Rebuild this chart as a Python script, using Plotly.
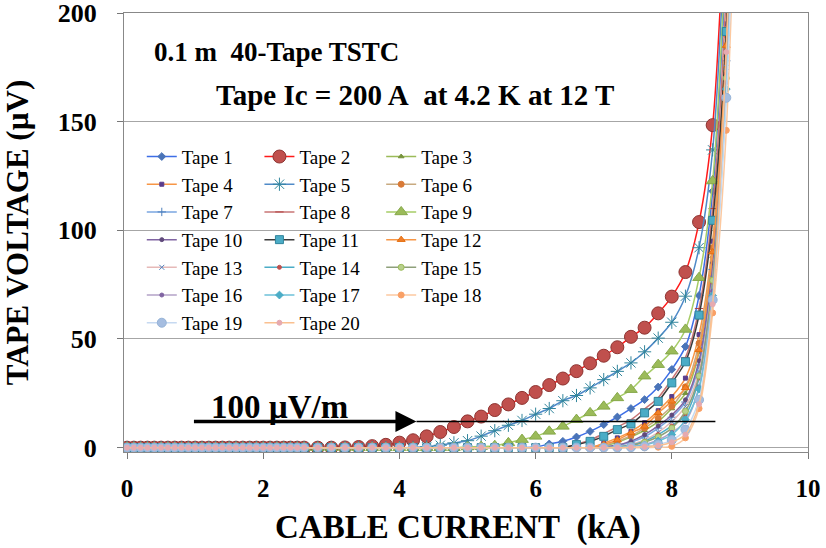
import plotly.graph_objects as go

# ---------------- data ----------------
current_low_ka = [0.0, 0.1, 0.2, 0.3, 0.4, 0.5, 0.6, 0.7, 0.8, 0.9, 1.0, 1.1, 1.2, 1.3,
                  1.4, 1.5, 1.6, 1.7, 1.8, 1.9, 2.0, 2.1, 2.2, 2.3, 2.4, 2.5, 2.6]
baseline_uv = [0, 0, 0, 0, 0, 0, 0, 0, 0, 0, 0, 0, 0, 0,
               0, 0, 0, 0, 0, 0, 0, 0, 0, 0, 0, 0, 0]
current_high_ka = [2.8, 3.0, 3.2, 3.4, 3.6, 3.8, 4.0, 4.2, 4.4, 4.6, 4.8, 5.0, 5.2, 5.4, 5.6, 5.8,
                   6.0, 6.2, 6.4, 6.6, 6.8, 7.0, 7.2, 7.4, 7.6, 7.8, 8.0, 8.2, 8.4, 8.6, 8.8, 9.0]

tape_01 = [0, 0, 0, 0, 0, 0, 0, 0, 0, 0, 0, 0, 0, 0, 0, 0,
           0.3, 1.7, 2.9, 4.9, 7.5, 10.6, 14.1, 18.0, 22.1, 27.9, 36.0, 46.5, 70.0, 118, 228, 430]
tape_02 = [0, 0, 0.1, 0.3, 0.7, 1.3, 2.3, 3.4, 5.2, 7.2, 9.5, 12.1, 14.3, 17.3, 19.9, 22.9,
           25.6, 28.8, 31.8, 35.2, 38.8, 42.3, 46.2, 51.0, 55.2, 61.8, 69.5, 80.8, 103.8, 148.4, 265, 480]
tape_03 = [0, 0, 0, 0, 0, 0, 0, 0, 0, 0, 0, 0, 0, 0, 0, 0,
           0, 0, 0, 0, 0, 0.8, 2.5, 5.0, 8.0, 12.0, 18.0, 25.0, 44, 88, 186, 380]
tape_04 = [0, 0, 0, 0, 0, 0, 0, 0, 0, 0, 0, 0, 0, 0, 0, 0,
           0, 0, 0, 0, 0, 2.0, 4.5, 7.5, 11.5, 17.0, 23.5, 32.0, 52, 95, 195, 390]
tape_05 = [0, 0, 0, 0, 0, 0, 0, 0.1, 0.4, 1.1, 2.2, 3.2, 5.3, 7.8, 10.3, 12.5,
           15.4, 18.0, 21.6, 24.0, 27.5, 31.3, 35.1, 39.0, 44.1, 50.4, 57.7, 69.7, 92.0, 137, 250, 460]
tape_06 = [0, 0, 0, 0, 0, 0, 0, 0, 0, 0, 0, 0, 0, 0, 0, 0,
           0, 0, 0, 0, 0, 1.0, 3.0, 5.5, 9.0, 13.5, 19.0, 28.0, 48, 92, 190, 385]
tape_07 = [0, 0, 0, 0, 0, 0, 0, 0, 0, 0, 0, 0, 0, 0, 0, 0,
           0, 0, 0, 0, 0, 0.2, 1.0, 2.5, 5.0, 9.0, 14.0, 21.0, 38, 82, 178, 365]
tape_08 = [0, 0, 0, 0, 0, 0, 0, 0, 0, 0, 0, 0, 0, 0, 0, 0,
           0, 0, 0, 1.5, 3.5, 6.5, 9.5, 12.8, 17.8, 23.0, 31.5, 41.5, 64, 110, 210, 410]
tape_09 = [0, 0, 0, 0, 0, 0, 0, 0, 0, 0, 0, 0.3, 0.5, 0.9, 2.2, 3.7,
           5.2, 7.5, 9.8, 12.9, 16.0, 19.0, 22.9, 26.7, 32.9, 38.2, 44.4, 54.4, 78.2, 122.7, 235, 440]
tape_10 = [0, 0, 0, 0, 0, 0, 0, 0, 0, 0, 0, 0, 0, 0, 0, 0,
           0, 0, 0, 0, 0, 0.3, 1.2, 3.0, 6.0, 10.0, 15.0, 22.0, 40, 85, 180, 370]
tape_11 = [0, 0, 0, 0, 0, 0, 0, 0, 0, 0, 0, 0, 0, 0, 0, 0,
           0, 0, 0, 1.4, 2.9, 5.2, 8.3, 10.9, 16.0, 21.3, 29.8, 39.5, 61.0, 104.6, 191.5, 380]
tape_12 = [0, 0, 0, 0, 0, 0, 0, 0, 0, 0, 0, 0, 0, 0, 0, 0,
           0, 0, 0, 0, 0, 1.5, 3.5, 6.8, 9.8, 16.0, 21.3, 27.5, 45, 90, 185, 380]
tape_13 = [0, 0, 0, 0, 0, 0, 0, 0, 0, 0, 0, 0, 0, 0, 0, 0,
           0, 0, 0, 0, 0, 0, 0.5, 1.5, 3.5, 7.0, 12.0, 19.0, 35, 78, 175, 360]
tape_14 = [0, 0, 0, 0, 0, 0, 0, 0, 0, 0, 0, 0, 0, 0, 0, 0,
           0, 0, 0, 0, 0, 0, 0.3, 1.2, 3.0, 6.0, 10.0, 15.0, 32, 76, 172, 355]
tape_15 = [0, 0, 0, 0, 0, 0, 0, 0, 0, 0, 0, 0, 0, 0, 0, 0,
           0, 0, 0, 0, 0, 0, 0.3, 1.0, 2.5, 5.0, 9.0, 16.7, 33, 77, 170, 350]
tape_16 = [0, 0, 0, 0, 0, 0, 0, 0, 0, 0, 0, 0, 0, 0, 0, 0,
           0, 0, 0, 0, 0, 0, 0, 0.5, 1.5, 3.5, 7.0, 12.0, 28, 72, 168, 345]
tape_17 = [0, 0, 0, 0, 0, 0, 0, 0, 0, 0, 0, 0, 0, 0, 0, 0,
           0, 0, 0, 0, 0, 0, 0, 0.4, 1.2, 3.0, 6.0, 12.9, 27, 70, 165, 340]
tape_18 = [0, 0, 0, 0, 0, 0, 0, 0, 0, 0, 0, 0, 0, 0, 0, 0,
           0, 0, 0, 0, 0, 0, 0, 0, 0, 0.2, 0.6, 4.5, 18, 62, 146, 330]
tape_19 = [0, 0, 0, 0, 0, 0, 0, 0, 0, 0, 0, 0, 0, 0, 0, 0,
           0, 0, 0, 0, 0, 0, 0, 0.2, 0.6, 1.5, 3.5, 8.3, 22, 68, 161, 335]
tape_20 = [0, 0, 0, 0, 0, 0, 0, 0, 0, 0, 0, 0, 0, 0, 0, 0,
           0, 0, 0, 0, 0, 0, 0, 0.1, 0.4, 1.0, 2.5, 6.0, 20, 66, 182, 350]

tape_names = ["Tape 1", "Tape 2", "Tape 3", "Tape 4", "Tape 5", "Tape 6", "Tape 7",
              "Tape 8", "Tape 9", "Tape 10", "Tape 11", "Tape 12", "Tape 13", "Tape 14",
              "Tape 15", "Tape 16", "Tape 17", "Tape 18", "Tape 19", "Tape 20"]
tape_values = [tape_01, tape_02, tape_03, tape_04, tape_05, tape_06, tape_07, tape_08,
               tape_09, tape_10, tape_11, tape_12, tape_13, tape_14, tape_15, tape_16,
               tape_17, tape_18, tape_19, tape_20]

x_tick_values = [0, 2, 4, 6, 8, 10]
y_tick_values = [0, 50, 100, 150, 200]

criterion_uv = 12
arrow_start_ka = 0.96
arrow_end_ka = 4.25
criterion_end_ka = 8.64

# ---------------- styles ----------------
# (line colour, marker symbol, marker size, marker fill, marker edge)
styles = [
    ("#3d6ee6", "diamond", 6, "#4a74b8", "#4a74b8"),
    ("#ff1a1a", "circle", 13, "#c0504d", "#8e3431"),
    ("#9bbb59", "triangle-up", 5, "#77933c", "#77933c"),
    ("#f79646", "square", 4, "#5a3c8c", "#5a3c8c"),
    ("#4f8ac8", "asterisk-open", 11, "#31859c", "#31859c"),
    ("#c8aa80", "circle", 6, "#d97a36", "#d97a36"),
    ("#7aa6e0", "cross-thin-open", 6, "#4f81bd", "#4f81bd"),
    ("#c87474", "line-ew-open", 6, "#b04040", "#b04040"),
    ("#a6cc66", "triangle-up", 11, "#9bbb59", "#86a84a"),
    ("#8064a2", "circle", 4, "#604a7b", "#604a7b"),
    ("#3a3a3a", "square", 8, "#4bacc6", "#31859c"),
    ("#f79646", "triangle-up", 7, "#f07f2a", "#e46c0a"),
    ("#e6b9b8", "x-thin-open", 5, "#4f81bd", "#4f81bd"),
    ("#4bacc6", "circle", 4, "#c0504d", "#c0504d"),
    ("#8ea07a", "circle", 6, "#b8d08c", "#9bbb59"),
    ("#b3a2c7", "circle", 4, "#8064a2", "#8064a2"),
    ("#6cc0d8", "diamond", 6, "#4bacc6", "#4bacc6"),
    ("#fcc9a0", "circle", 6, "#f9a066", "#f9a066"),
    ("#c6d9f1", "circle", 9, "#a5bde0", "#95b3d7"),
    ("#fac090", "circle", 5, "#e6aab0", "#e6aab0"),
]

FONT = "Liberation Serif, Times New Roman, serif"

fig = go.Figure()
xs = current_low_ka + current_high_ka
for i, (name, vals) in enumerate(zip(tape_names, tape_values)):
    lc, sym, size, fill, edge = styles[i]
    legend_id = ["legend", "legend2", "legend3"][i % 3]
    fig.add_trace(go.Scatter(
        x=xs, y=baseline_uv + vals, name=name, mode="lines+markers",
        line=dict(color=lc, width=1.5, shape="spline", smoothing=0.8),
        marker=dict(symbol=sym, size=size, color=fill, line=dict(color=edge, width=1)),
        legend=legend_id,
    ))

leg_common = dict(bgcolor="rgba(0,0,0,0)", borderwidth=0, xanchor="left", yanchor="top",
                  font=dict(family=FONT, size=19, color="#000"), tracegroupgap=0,
                  itemwidth=30)
fig.update_layout(
    width=826, height=548,
    margin=dict(l=124, r=18, t=13, b=96, autoexpand=False),
    paper_bgcolor="white", plot_bgcolor="white",
    legend=dict(x=0.026, y=0.716, **leg_common),
    legend2=dict(x=0.198, y=0.716, **leg_common),
    legend3=dict(x=0.376, y=0.716, **leg_common),
    xaxis=dict(range=[-0.045, 10], tickvals=x_tick_values, ticks="outside", ticklen=6,
               tickcolor="#777", showline=True, linecolor="#888", linewidth=1, mirror=True,
               showgrid=False, zeroline=False, automargin=False, ticklabelstandoff=8,
               ticklabeloverflow="allow",
               tickfont=dict(family=FONT, size=25, color="#000", weight="bold")),
    yaxis=dict(range=[-2, 200.001], tickvals=y_tick_values, ticks="outside", ticklen=6,
               tickcolor="#777", showline=True, linecolor="#888", linewidth=1, mirror=True,
               showgrid=True, gridcolor="#a6a6a6", gridwidth=1, zeroline=False,
               automargin=False, ticklabelstandoff=15, ticklabeloverflow="allow",
               tickfont=dict(family=FONT, size=26, color="#000", weight="bold"),
               title=dict(text="TAPE VOLTAGE (\u00b5V)", standoff=24,
                          font=dict(family=FONT, size=31, color="#000", weight="bold"))),
    showlegend=True,
)

# x-axis title placed precisely
fig.add_annotation(xref="paper", yref="paper", x=0.488, y=-0.171, xanchor="center", yanchor="middle",
                   text="CABLE CURRENT\u00a0 (kA)", showarrow=False,
                   font=dict(family=FONT, size=33, color="#000", weight="bold"))
fig.add_annotation(xref="paper", yref="paper", x=0.041, y=0.911, xanchor="left", yanchor="middle",
                   text="0.1 m\u00a0 40-Tape TSTC", showarrow=False,
                   font=dict(family=FONT, size=27, color="#000", weight="bold"))
fig.add_annotation(xref="paper", yref="paper", x=0.132, y=0.813, xanchor="left", yanchor="middle",
                   text="Tape Ic = 200 A\u00a0 at 4.2 K at 12 T", showarrow=False,
                   font=dict(family=FONT, size=29, color="#000", weight="bold"))
fig.add_annotation(xref="x", yref="y", x=2.24, y=18.6, xanchor="center", yanchor="middle",
                   text="100 \u00b5V/m", showarrow=False,
                   font=dict(family=FONT, size=33, color="#000", weight="bold"))
fig.add_annotation(xref="x", yref="y", axref="x", ayref="y", x=arrow_end_ka, y=criterion_uv,
                   ax=arrow_start_ka, ay=criterion_uv, text="", showarrow=True,
                   arrowhead=2, arrowsize=1.2, arrowwidth=3.5, arrowcolor="#000")
fig.add_shape(type="line", xref="x", yref="y", x0=arrow_end_ka, x1=criterion_end_ka,
              y0=criterion_uv, y1=criterion_uv, line=dict(color="#000", width=1.5))

fig.write_html("out.html", config={"displayModeBar": False},
               post_script="document.body.style.margin='0';")
